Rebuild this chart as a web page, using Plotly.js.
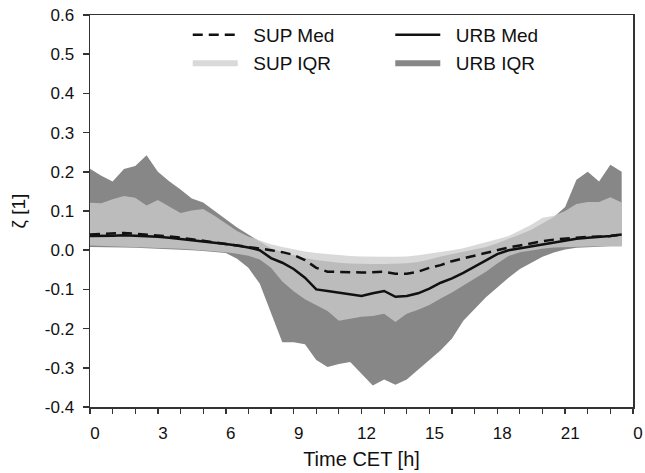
<!DOCTYPE html>
<html>
<head>
<meta charset="utf-8">
<script src="https://cdn.plot.ly/plotly-3.0.1.min.js"></script>
<style>html,body{margin:0;padding:0;background:#fff;}#chart{width:645px;height:473px;}</style>
</head>
<body>
<div id="chart"></div>
<script>
// Time of day (CET, hours), half-hourly
const hours = [0,0.5,1,1.5,2,2.5,3,3.5,4,4.5,5,5.5,6,6.5,7,7.5,8,8.5,9,9.5,10,10.5,11,11.5,12,12.5,13,13.5,14,14.5,15,15.5,16,16.5,17,17.5,18,18.5,19,19.5,20,20.5,21,21.5,22,22.5,23,23.5];

// SUP (suburban) median and interquartile range
const supMed = [0.040,0.041,0.042,0.044,0.042,0.040,0.038,0.035,0.032,0.028,0.025,0.021,0.017,0.013,0.009,0.004,0.000,-0.005,-0.012,-0.025,-0.045,-0.055,-0.055,-0.056,-0.057,-0.056,-0.055,-0.060,-0.060,-0.055,-0.045,-0.038,-0.028,-0.021,-0.014,-0.006,0.000,0.007,0.012,0.018,0.023,0.027,0.030,0.032,0.034,0.035,0.036,0.040];
const supQ1 = [0.012,0.011,0.010,0.010,0.009,0.008,0.007,0.006,0.004,0.002,0.000,-0.002,-0.005,-0.009,-0.014,-0.024,-0.045,-0.080,-0.105,-0.125,-0.140,-0.155,-0.180,-0.175,-0.170,-0.168,-0.162,-0.183,-0.162,-0.152,-0.140,-0.123,-0.108,-0.090,-0.072,-0.055,-0.034,-0.015,-0.005,0.000,0.004,0.007,0.008,0.009,0.010,0.010,0.010,0.010];
const supQ3 = [0.121,0.120,0.130,0.138,0.134,0.114,0.128,0.112,0.095,0.101,0.105,0.088,0.068,0.049,0.035,0.025,0.015,0.008,0.002,-0.003,-0.007,-0.010,-0.013,-0.015,-0.016,-0.017,-0.017,-0.017,-0.016,-0.013,-0.009,-0.004,0.000,0.005,0.012,0.020,0.028,0.036,0.050,0.065,0.083,0.088,0.100,0.118,0.123,0.123,0.135,0.122];

// URB (urban) median and interquartile range
const urbMed = [0.036,0.036,0.037,0.038,0.037,0.036,0.034,0.032,0.029,0.026,0.023,0.020,0.016,0.012,0.007,0.000,-0.020,-0.032,-0.048,-0.070,-0.100,-0.104,-0.108,-0.113,-0.117,-0.110,-0.104,-0.119,-0.117,-0.110,-0.098,-0.083,-0.072,-0.058,-0.042,-0.025,-0.010,0.000,0.005,0.009,0.015,0.020,0.025,0.029,0.032,0.034,0.036,0.040];
const urbQ1 = [0.008,0.008,0.007,0.007,0.006,0.005,0.004,0.003,0.001,0.000,-0.002,-0.004,-0.007,-0.022,-0.045,-0.085,-0.160,-0.235,-0.235,-0.240,-0.280,-0.298,-0.290,-0.285,-0.315,-0.345,-0.330,-0.343,-0.330,-0.305,-0.280,-0.255,-0.225,-0.180,-0.150,-0.120,-0.095,-0.070,-0.048,-0.032,-0.017,-0.006,0.002,0.006,0.008,0.009,0.010,0.010];
const urbQ3 = [0.208,0.190,0.175,0.207,0.215,0.242,0.200,0.176,0.155,0.132,0.122,0.100,0.078,0.058,0.040,0.022,0.005,-0.005,-0.012,-0.020,-0.025,-0.029,-0.032,-0.034,-0.035,-0.035,-0.035,-0.034,-0.033,-0.030,-0.024,-0.016,-0.010,-0.005,0.002,0.008,0.018,0.028,0.040,0.052,0.068,0.085,0.110,0.180,0.200,0.175,0.218,0.200];

// Axis tick labels
const xTickVals = [0,3,6,9,12,15,18,21,24];
const xTickText = ["0","3","6","9","12","15","18","21","0"];
const yTickVals = [-0.4,-0.3,-0.2,-0.1,0,0.1,0.2,0.3,0.4,0.5,0.6];
const yTickText = ["-0.4","-0.3","-0.2","-0.1","0.0","0.1","0.2","0.3","0.4","0.5","0.6"];

const FONT = 'Arial, "Liberation Sans", sans-serif';
const URB_FILL = '#878787';
const SUP_FILL = 'rgba(205,205,205,0.76)';
const GAP = '\u00a0\u00a0';

const traces = [
  {x: hours, y: urbQ1, type: 'scatter', mode: 'lines', line: {width: 0, color: URB_FILL}, showlegend: false, hoverinfo: 'skip'},
  {x: hours, y: urbQ3, type: 'scatter', mode: 'lines', line: {width: 0, color: URB_FILL}, fill: 'tonexty', fillcolor: URB_FILL,
   name: GAP + 'URB IQR', legend: 'legend2', legendrank: 2},
  {x: hours, y: supQ1, type: 'scatter', mode: 'lines', line: {width: 0, color: SUP_FILL}, showlegend: false, hoverinfo: 'skip'},
  {x: hours, y: supQ3, type: 'scatter', mode: 'lines', line: {width: 0, color: SUP_FILL}, fill: 'tonexty', fillcolor: SUP_FILL,
   name: GAP + 'SUP IQR', legend: 'legend', legendrank: 2},
  {x: hours, y: urbMed, type: 'scatter', mode: 'lines', line: {width: 2.5, color: '#111'},
   name: GAP + 'URB Med', legend: 'legend2', legendrank: 1},
  {x: hours, y: supMed, type: 'scatter', mode: 'lines', line: {width: 2.5, color: '#111', dash: '10px,6px'},
   name: GAP + 'SUP Med', legend: 'legend', legendrank: 1}
];

const legendBase = {
  orientation: 'v', xanchor: 'left', yanchor: 'top', bgcolor: 'rgba(0,0,0,0)', borderwidth: 0,
  font: {family: FONT, size: 19, color: '#111'}, itemwidth: 45, tracegroupgap: 0, traceorder: 'normal'
};

const layout = {
  width: 645, height: 473,
  margin: {l: 90, r: 12, t: 15, b: 66},
  paper_bgcolor: '#fff', plot_bgcolor: '#fff',
  font: {family: FONT, color: '#111'},
  showlegend: true,
  legend: Object.assign({}, legendBase, {x: 0.18, y: 0.998}),
  legend2: Object.assign({}, legendBase, {x: 0.553, y: 0.998}),
  xaxis: {
    range: [0, 24], tickmode: 'array', tickvals: xTickVals, ticktext: xTickText,
    ticks: 'outside', ticklen: 5, tickwidth: 1.5, tickcolor: '#333',
    minor: {dtick: 1, ticks: 'outside', ticklen: 5, tickwidth: 1.2, tickcolor: '#333'},
    showline: true, linecolor: '#333', linewidth: 1.5, mirror: true,
    showgrid: false, zeroline: false,
    tickfont: {family: FONT, size: 17, color: '#111'},
    ticklabelshift: 5, ticklabelstandoff: 5,
    title: {text: 'Time CET [h]', font: {family: FONT, size: 20, color: '#111'}, standoff: 10}
  },
  yaxis: {
    range: [-0.4, 0.6], tickmode: 'array', tickvals: yTickVals, ticktext: yTickText,
    ticks: 'outside', ticklen: 6, tickwidth: 1.5, tickcolor: '#333',
    showline: true, linecolor: '#333', linewidth: 1.5, mirror: true,
    showgrid: false, zeroline: false,
    tickfont: {family: FONT, size: 17, color: '#111'},
    ticklabelstandoff: 5,
    title: {text: 'ζ [1]', font: {family: FONT, size: 19, color: '#111'}, standoff: 14}
  }
};

Plotly.newPlot('chart', traces, layout, {displayModeBar: false, staticPlot: true});
</script>
</body>
</html>
